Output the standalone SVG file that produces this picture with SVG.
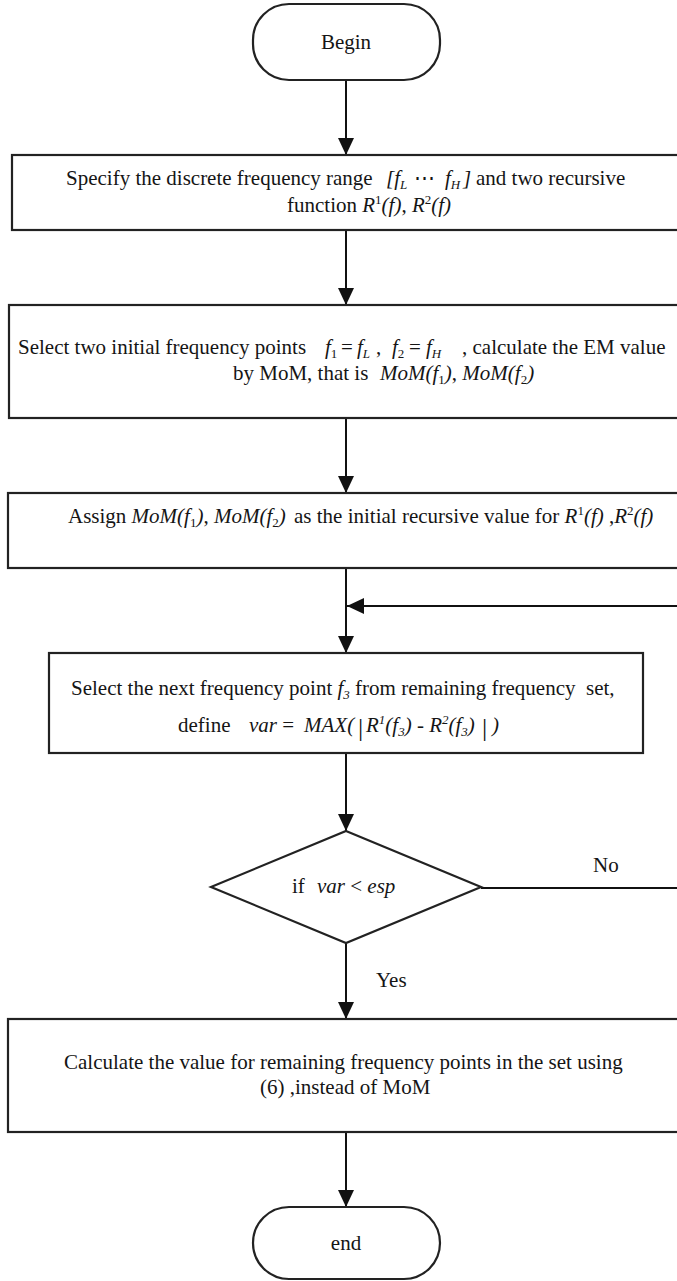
<svg xmlns="http://www.w3.org/2000/svg" width="677" height="1281" viewBox="0 0 677 1281">
<style>
.t{font-family:"Liberation Serif","Times New Roman",serif;font-size:21px;fill:#151515}
.i{font-style:italic}
.s{font-size:13px}
.bar{font-size:26px}
.box{fill:#fff;stroke:#222;stroke-width:2.2}
.ln{fill:none;stroke:#111;stroke-width:2}
</style>
<defs>
<marker id="ah" markerUnits="userSpaceOnUse" markerWidth="17" markerHeight="16" refX="17" refY="8" orient="auto">
<path d="M0,0 L17,8 L0,16 Z" fill="#111"/>
</marker>
</defs>
<rect width="677" height="1281" fill="#fff"/>

<g id="connectors">
<line class="ln" x1="346" y1="80" x2="346" y2="155" marker-end="url(#ah)"/>
<line class="ln" x1="346" y1="230" x2="346" y2="305" marker-end="url(#ah)"/>
<line class="ln" x1="346" y1="418" x2="346" y2="493" marker-end="url(#ah)"/>
<line class="ln" x1="346" y1="568" x2="346" y2="653" marker-end="url(#ah)"/>
<line class="ln" x1="346" y1="753" x2="346" y2="831" marker-end="url(#ah)"/>
<line class="ln" x1="346" y1="943" x2="346" y2="1019" marker-end="url(#ah)"/>
<line class="ln" x1="346" y1="1132" x2="346" y2="1207" marker-end="url(#ah)"/>
<path class="ln" d="M481,888 H700 V606 H347" marker-end="url(#ah)"/>
<text class="t" x="593" y="872">No</text>
<text class="t" x="376" y="987">Yes</text>
</g>

<g id="begin">
<rect class="box" x="253" y="4" width="187" height="76" rx="36" ry="36"/>
<text class="t" x="346" y="49" text-anchor="middle">Begin</text>
</g>

<g id="step1">
<rect class="box" x="12" y="155" width="700" height="75"/>
<text class="t" y="185"><tspan x="66">Specify the discrete frequency range</tspan><tspan class="i" x="386">[f</tspan><tspan class="i s" dy="4">L</tspan><tspan dy="-4" x="414">⋯</tspan><tspan class="i" x="445">f</tspan><tspan class="i s" dy="4">H</tspan><tspan class="i" dy="-4" x="463">]</tspan><tspan x="476">and two recursive</tspan></text>
<text class="t" y="212"><tspan x="287">function </tspan><tspan class="i">R</tspan><tspan class="s" dy="-8">1</tspan><tspan class="i" dy="8">(f)</tspan><tspan>, </tspan><tspan class="i">R</tspan><tspan class="s" dy="-8">2</tspan><tspan class="i" dy="8">(f)</tspan></text>
</g>

<g id="step2">
<rect class="box" x="9" y="305" width="700" height="113"/>
<text class="t" y="354"><tspan x="18">Select two initial frequency points</tspan><tspan class="i" x="325">f</tspan><tspan class="s" dy="4">1</tspan><tspan dy="-4" x="341">=</tspan><tspan class="i" x="357">f</tspan><tspan class="i s" dy="4">L</tspan><tspan dy="-4" x="376">,</tspan><tspan class="i" x="392">f</tspan><tspan class="s" dy="4">2</tspan><tspan dy="-4" x="409">=</tspan><tspan class="i" x="426">f</tspan><tspan class="i s" dy="4">H</tspan><tspan dy="-4" x="462">, calculate the EM value</tspan></text>
<text class="t" y="380"><tspan x="233">by MoM, that is</tspan><tspan class="i" x="380">MoM(f</tspan><tspan class="s" dy="4">1</tspan><tspan class="i" dy="-4">)</tspan><tspan>, </tspan><tspan class="i">MoM(f</tspan><tspan class="s" dy="4">2</tspan><tspan class="i" dy="-4">)</tspan></text>
</g>

<g id="step3">
<rect class="box" x="8" y="493" width="700" height="75"/>
<text class="t" y="523"><tspan x="68">Assign </tspan><tspan class="i">MoM(f</tspan><tspan class="s" dy="4">1</tspan><tspan class="i" dy="-4">)</tspan><tspan>, </tspan><tspan class="i">MoM(f</tspan><tspan class="s" dy="4">2</tspan><tspan class="i" dy="-4">)</tspan><tspan x="294">as the initial recursive value for </tspan><tspan class="i">R</tspan><tspan class="s" dy="-8">1</tspan><tspan class="i" dy="8">(f)</tspan><tspan> ,</tspan><tspan class="i">R</tspan><tspan class="s" dy="-8">2</tspan><tspan class="i" dy="8">(f)</tspan></text>
</g>

<g id="step4">
<rect class="box" x="49" y="653" width="594" height="100"/>
<text class="t" y="695"><tspan x="71">Select the next frequency point </tspan><tspan class="i">f</tspan><tspan class="i s" dy="4">3</tspan><tspan dy="-4"> from remaining frequency&#160; set,</tspan></text>
<text class="t" y="732"><tspan x="178">define</tspan><tspan class="i" x="249">var</tspan><tspan> = </tspan><tspan class="i" x="304">MAX(</tspan><tspan class="bar" x="358" y="736">|</tspan><tspan class="i" x="366" y="732">R</tspan><tspan class="i s" dy="-8">1</tspan><tspan class="i" dy="8">(f</tspan><tspan class="i s" dy="4">3</tspan><tspan class="i" dy="-4">)</tspan><tspan> - </tspan><tspan class="i">R</tspan><tspan class="i s" dy="-8">2</tspan><tspan class="i" dy="8">(f</tspan><tspan class="i s" dy="4">3</tspan><tspan class="i" dy="-4">)</tspan><tspan class="bar" x="482" y="736">|</tspan><tspan class="i" x="492" y="732">)</tspan></text>
</g>

<g id="decision">
<polygon class="box" points="346,831 481,887 346,943 211,887"/>
<text class="t" y="893"><tspan x="292">if</tspan><tspan class="i" x="317">var</tspan><tspan> &lt; </tspan><tspan class="i">esp</tspan></text>
</g>

<g id="step5">
<rect class="box" x="8" y="1019" width="700" height="113"/>
<text class="t" x="64" y="1069">Calculate the value for remaining frequency points in the set using</text>
<text class="t" x="260" y="1094">(6) ,instead of MoM</text>
</g>

<g id="end">
<rect class="box" x="253" y="1207" width="187" height="72" rx="36" ry="36"/>
<text class="t" x="346" y="1250" text-anchor="middle">end</text>
</g>
</svg>
